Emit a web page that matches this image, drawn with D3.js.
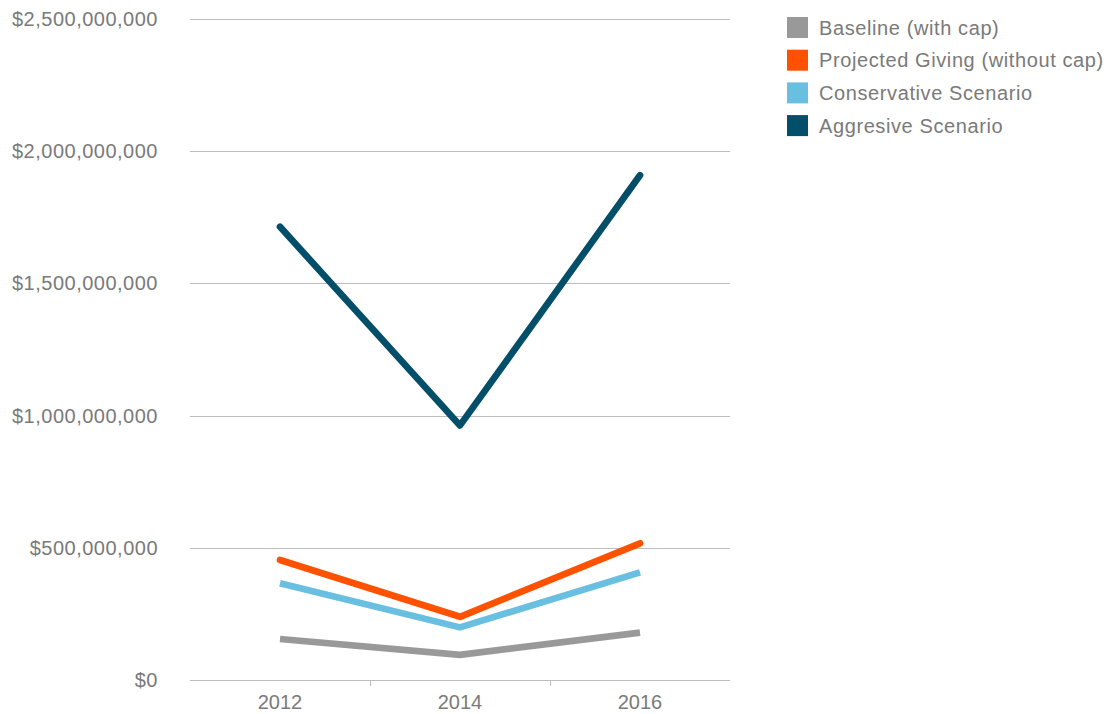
<!DOCTYPE html>
<html>
<head>
<meta charset="utf-8">
<script src="https://cdn.jsdelivr.net/npm/d3@7"></script>
<style>
  body { margin: 0; background: #fff; }
  svg { font-family: "Liberation Sans", Arial, sans-serif; }
</style>
</head>
<body>
<div id="chart"></div>
<script>
const width = 1106;
const height = 714;
const margin = { top: 19, right: 376, bottom: 34, left: 190 };

// données
const years = ['2012', '2014', '2016'];
const seriesNames = ['Baseline (with cap)', 'Projected Giving (without cap)', 'Conservative Scenario', 'Aggresive Scenario'];
const baseline = [155000000, 95000000, 179000000];
const projected = [454000000, 239000000, 517000000];
const conservative = [366000000, 199000000, 407000000];
const aggressive = [1714000000, 963000000, 1909000000];
const yTicks = [0, 500000000, 1000000000, 1500000000, 2000000000, 2500000000];
const colors = ['#999999', '#ff5200', '#69bfe0', '#034e69'];
const roundCaps = [false, true, false, true];

const series = [baseline, projected, conservative, aggressive].map((values, i) => ({
    name: seriesNames[i],
    color: colors[i],
    round: roundCaps[i],
    values: values.map((v, j) => ({ year: years[j], value: v }))
}));

const svg = d3.select('#chart')
    .append('svg')
    .attr('width', width)
    .attr('height', height);

// échelle horizontale
const x = d3.scaleBand()
    .domain(years)
    .range([margin.left, width - margin.right]);

// échelle verticale
const y = d3.scaleLinear()
    .domain([0, 2500000000])
    .range([height - margin.bottom, margin.top]);

// grille
svg.append('g')
    .selectAll('line')
    .data(yTicks)
    .join('line')
    .attr('x1', margin.left)
    .attr('x2', width - margin.right)
    .attr('y1', d => Math.round(y(d)) + 0.5)
    .attr('y2', d => Math.round(y(d)) + 0.5)
    .attr('stroke', '#bdbdbd')
    .attr('stroke-width', 1);

// axe vertical
const fmt = d3.format('$,');
svg.append('g')
    .selectAll('text')
    .data(yTicks)
    .join('text')
    .attr('x', 158)
    .attr('y', d => y(d))
    .attr('dy', '0.35em')
    .attr('text-anchor', 'end')
    .attr('font-size', 20)
    .attr('letter-spacing', 0.5)
    .attr('fill', '#7a7a7a')
    .text(d => fmt(d));

// axe horizontal
const xAxis = svg.append('g')
    .attr('transform', `translate(0, ${Math.round(y(0)) + 0.5})`)
    .call(d3.axisBottom(x).tickSize(0).tickPadding(14))
    .call(g => g.select('.domain').remove());
xAxis.selectAll('text')
    .attr('font-size', 20)
    .attr('font-family', '"Liberation Sans", Arial, sans-serif')
    .attr('fill', '#7a7a7a');

// petites marques entre les catégories
svg.append('g')
    .selectAll('line')
    .data(years.slice(1))
    .join('line')
    .attr('x1', d => Math.round(x(d)) + 0.5)
    .attr('x2', d => Math.round(x(d)) + 0.5)
    .attr('y1', Math.round(y(0)))
    .attr('y2', Math.round(y(0)) + 6)
    .attr('stroke', '#bdbdbd');

// lignes
const line = d3.line()
    .x(d => x(d.year) + x.bandwidth() / 2)
    .y(d => y(d.value));

svg.append('g')
    .selectAll('path')
    .data(series)
    .join('path')
    .attr('d', d => line(d.values))
    .attr('fill', 'none')
    .attr('stroke', d => d.color)
    .attr('stroke-width', 6.7)
    .attr('stroke-linecap', d => d.round ? 'round' : 'butt')
    .attr('stroke-linejoin', d => d.round ? 'round' : 'miter');

// légende
const legend = svg.append('g')
    .attr('transform', 'translate(787, 17)');

const items = legend.selectAll('g')
    .data(series)
    .join('g')
    .attr('transform', (d, i) => `translate(0, ${i * 32.7})`);

items.append('rect')
    .attr('width', 21)
    .attr('height', 21)
    .attr('fill', d => d.color);

items.append('text')
    .attr('x', 32)
    .attr('y', 10.5)
    .attr('dy', '0.35em')
    .attr('font-size', 20)
    .attr('letter-spacing', 0.6)
    .attr('fill', '#7a7a7a')
    .text(d => d.name);
</script>
</body>
</html>
